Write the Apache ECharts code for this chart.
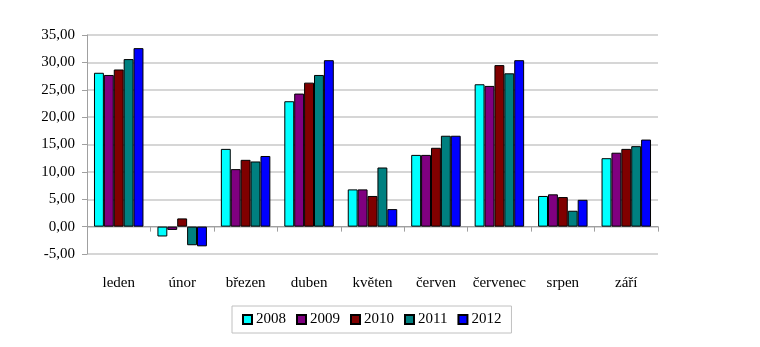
<!DOCTYPE html>
<html><head><meta charset="utf-8">
<script src="https://cdn.jsdelivr.net/npm/echarts@6/dist/echarts.min.js"></script>
<style>html,body{margin:0;padding:0;background:#fff}#c{width:760px;height:347px}</style>
</head><body><div id="c"></div>
<script>
const categories = ['leden','únor','březen','duben','květen','červen','červenec','srpen','září'];
const years = ['2008','2009','2010','2011','2012'];
const colors = ['#00FFFF','#800080','#800000','#008080','#0000FF'];
const s2008 = [28.1,-1.8,14.2,22.9,6.8,13.1,26.0,5.6,12.5];
const s2009 = [27.7,-0.6,10.5,24.3,6.8,13.1,25.7,5.9,13.5];
const s2010 = [28.7,1.5,12.2,26.3,5.6,14.4,29.5,5.4,14.2];
const s2011 = [30.6,-3.4,11.9,27.7,10.8,16.6,28.0,2.9,14.7];
const s2012 = [32.6,-3.6,12.9,30.4,3.2,16.6,30.4,4.9,15.9];
const allSeries = [s2008,s2009,s2010,s2011,s2012];
const font = '"Liberation Serif","DejaVu Serif",serif';
const chart = echarts.init(document.getElementById('c'));
chart.setOption({
  animation:false,
  backgroundColor:'#fff',
  grid:{left:87,right:102,top:35,bottom:93},
  legend:{
    left:232, top:306, width:278, height:29,
    padding:[6,10,6,10],
    borderColor:'#c0c0c0', borderWidth:1,
    itemWidth:9, itemHeight:9, itemGap:10,
    icon:'rect',
    textStyle:{fontFamily:font,fontSize:15,color:'#000',padding:[0,0,0,-1]},
    data:years
  },
  xAxis:{
    type:'category', data:categories,
    axisLine:{onZero:true,lineStyle:{color:'#a0a0a0',width:1}},
    axisTick:{show:true,length:5,lineStyle:{color:'#a0a0a0'}},
    axisLabel:{interval:0,margin:22,fontFamily:font,fontSize:15,color:'#000'},
    splitLine:{show:false}
  },
  yAxis:{
    type:'value', min:-5, max:35, interval:5,
    axisLine:{show:true,lineStyle:{color:'#a0a0a0'}},
    axisTick:{show:true,length:5,inside:false,lineStyle:{color:'#a0a0a0'}},
    axisLabel:{margin:12,fontFamily:font,fontSize:15,color:'#000',
      formatter:v=>v.toFixed(2).replace('.',',')},
    splitLine:{lineStyle:{color:'#c8c8c8',width:1.5}}
  },
  series: years.map((y,i)=>({
    name:y, type:'bar', data:allSeries[i],
    barGap:'0%', barCategoryGap:'22%',
    itemStyle:{color:colors[i],borderColor:'#000',borderWidth:1}
  }))
});
</script></body></html>
